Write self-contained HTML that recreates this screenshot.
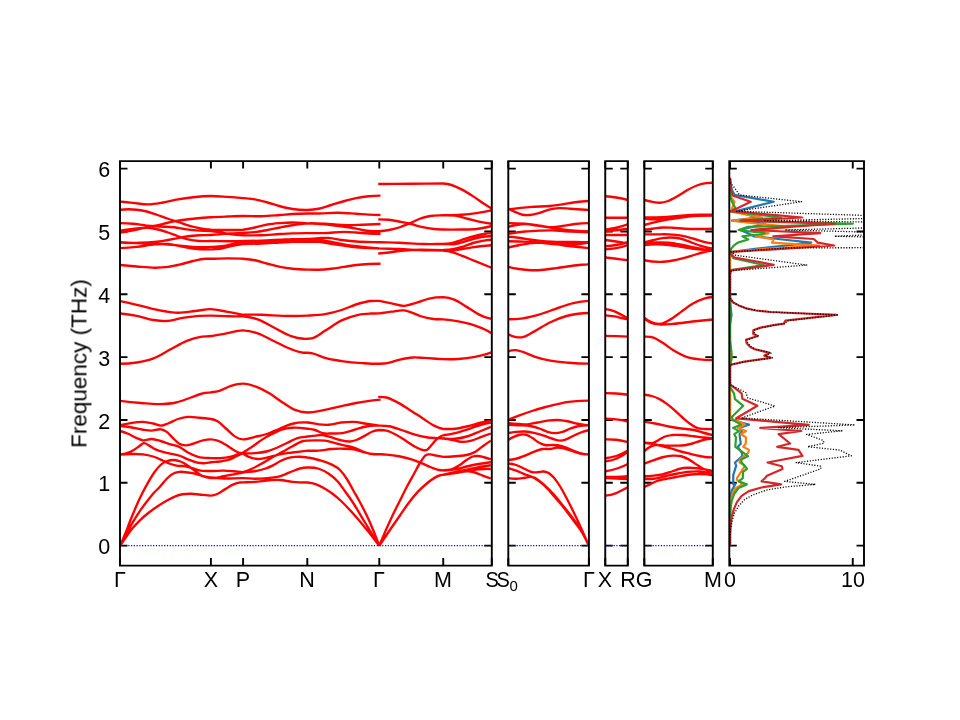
<!DOCTYPE html>
<html><head><meta charset="utf-8"><title>band</title>
<style>
html,body{margin:0;padding:0;background:#fff;}
body{width:960px;height:720px;position:relative;overflow:hidden;font-family:"Liberation Sans",sans-serif;color:#000;}
.xl,.yl{will-change:transform;}
.xl{position:absolute;top:567.5px;width:100px;text-align:center;font-size:21.5px;line-height:25px;white-space:nowrap;}
.xl sub{font-size:15px;vertical-align:baseline;position:relative;top:4px;}
.yl{position:absolute;left:40px;width:70.3px;text-align:right;font-size:21.5px;line-height:25px;}
.dg{display:inline-block;}
.ss{display:inline-block;transform:scaleX(0.93);margin:0 -0.5px;}
.ylab{position:absolute;left:79.5px;top:363px;width:0;height:0;}
.ylab span{position:absolute;display:block;width:300px;left:-150px;top:-12.5px;line-height:25px;text-align:center;font-size:21.5px;transform:rotate(-90deg) scaleX(1.046);white-space:nowrap;}
</style></head><body>
<svg width="960" height="720" viewBox="0 0 960 720" style="position:absolute;left:0;top:0">
<defs>
<clipPath id="c0"><rect x="120.00" y="161.10" width="371.80" height="404.50"/></clipPath>
<clipPath id="c1"><rect x="508.30" y="161.10" width="80.60" height="404.50"/></clipPath>
<clipPath id="c2"><rect x="605.25" y="161.10" width="22.55" height="404.50"/></clipPath>
<clipPath id="c3"><rect x="644.30" y="161.10" width="68.50" height="404.50"/></clipPath>
<clipPath id="c4"><rect x="729.30" y="161.10" width="134.70" height="404.50"/></clipPath>
</defs>
<path d="M120.00 545.60h7.50M491.80 545.60h-7.50M120.00 482.77h7.50M491.80 482.77h-7.50M120.00 419.94h7.50M491.80 419.94h-7.50M120.00 357.11h7.50M491.80 357.11h-7.50M120.00 294.28h7.50M491.80 294.28h-7.50M120.00 231.45h7.50M491.80 231.45h-7.50M120.00 168.62h7.50M491.80 168.62h-7.50M120.00 565.60v-7.50M120.00 161.10v7.50M210.90 565.60v-7.50M210.90 161.10v7.50M243.10 565.60v-7.50M243.10 161.10v7.50M307.30 565.60v-7.50M307.30 161.10v7.50M379.30 565.60v-7.50M379.30 161.10v7.50M443.25 565.60v-7.50M443.25 161.10v7.50M491.80 565.60v-7.50M491.80 161.10v7.50M508.30 545.60h7.50M588.90 545.60h-7.50M508.30 482.77h7.50M588.90 482.77h-7.50M508.30 419.94h7.50M588.90 419.94h-7.50M508.30 357.11h7.50M588.90 357.11h-7.50M508.30 294.28h7.50M588.90 294.28h-7.50M508.30 231.45h7.50M588.90 231.45h-7.50M508.30 168.62h7.50M588.90 168.62h-7.50M508.30 565.60v-7.50M508.30 161.10v7.50M588.90 565.60v-7.50M588.90 161.10v7.50M605.25 545.60h7.50M627.80 545.60h-7.50M605.25 482.77h7.50M627.80 482.77h-7.50M605.25 419.94h7.50M627.80 419.94h-7.50M605.25 357.11h7.50M627.80 357.11h-7.50M605.25 294.28h7.50M627.80 294.28h-7.50M605.25 231.45h7.50M627.80 231.45h-7.50M605.25 168.62h7.50M627.80 168.62h-7.50M605.25 565.60v-7.50M605.25 161.10v7.50M627.80 565.60v-7.50M627.80 161.10v7.50M644.30 545.60h7.50M712.80 545.60h-7.50M644.30 482.77h7.50M712.80 482.77h-7.50M644.30 419.94h7.50M712.80 419.94h-7.50M644.30 357.11h7.50M712.80 357.11h-7.50M644.30 294.28h7.50M712.80 294.28h-7.50M644.30 231.45h7.50M712.80 231.45h-7.50M644.30 168.62h7.50M712.80 168.62h-7.50M644.30 565.60v-7.50M644.30 161.10v7.50M712.80 565.60v-7.50M712.80 161.10v7.50M729.30 545.60h7.50M864.00 545.60h-7.50M729.30 482.77h7.50M864.00 482.77h-7.50M729.30 419.94h7.50M864.00 419.94h-7.50M729.30 357.11h7.50M864.00 357.11h-7.50M729.30 294.28h7.50M864.00 294.28h-7.50M729.30 231.45h7.50M864.00 231.45h-7.50M729.30 168.62h7.50M864.00 168.62h-7.50M730.00 565.60v-7.50M730.00 161.10v7.50M852.75 565.60v-7.50M852.75 161.10v7.50" fill="none" stroke="#000" stroke-width="1.90" stroke-linecap="butt"/>
<g clip-path="url(#c0)" fill="none" stroke="#ff0000" stroke-width="2.35" stroke-linecap="butt" stroke-linejoin="round">
<path d="M120.25 209.75C125.75 209.15 131.25 209.15 136.75 209.75C140.08 210.11 143.42 210.67 146.75 211.50C150.08 212.33 153.42 213.62 156.75 214.75C160.50 216.02 164.25 217.50 168.00 218.75C171.33 219.86 174.67 220.77 178.00 221.88C181.33 222.98 184.67 224.37 188.00 225.38C191.75 226.50 195.50 227.40 199.25 228.12C203.17 228.88 207.08 229.42 211.00 229.75M211.00 229.75C216.50 229.92 222.00 230.01 227.50 230.00C232.67 229.99 237.83 229.91 243.00 229.75M378.25 184.00C389.33 183.92 400.42 183.84 411.50 183.75C422.08 183.67 432.67 183.59 443.25 183.50M443.25 183.50C446.00 183.68 448.75 184.18 451.50 185.00C454.83 185.99 458.17 187.68 461.50 189.38C465.67 191.50 469.83 194.17 474.00 196.88C477.33 199.04 480.67 201.56 484.00 203.75C486.50 205.39 489.00 206.97 491.50 208.50M443.25 215.25C447.25 215.25 451.25 215.07 455.25 215.62C459.42 216.20 463.58 217.71 467.75 218.75C471.92 219.79 476.08 221.02 480.25 221.88C484.00 222.65 487.75 223.27 491.50 223.75M443.25 244.00C446.00 243.96 448.75 243.67 451.50 243.12C454.83 242.46 458.17 241.02 461.50 240.00C465.67 238.72 469.83 237.33 474.00 236.25C477.33 235.39 480.67 234.54 484.00 234.00C486.50 233.59 489.00 233.30 491.50 233.12M443.25 250.00C447.25 250.00 451.25 249.59 455.25 248.75C458.17 248.14 461.08 247.17 464.00 246.25C467.33 245.20 470.67 243.69 474.00 242.75C477.33 241.81 480.67 241.15 484.00 240.62C486.50 240.23 489.00 239.94 491.50 239.75M243.08 316.25C247.94 316.64 252.81 317.69 257.67 319.38C263.22 321.31 268.78 324.93 274.33 327.71C279.89 330.49 285.44 334.16 291.00 336.04C295.17 337.45 299.33 338.53 303.50 338.75C304.82 338.82 306.14 338.82 307.46 338.75M379.17 300.83C383.33 301.67 387.50 302.50 391.67 303.33C395.83 304.17 400.00 305.94 404.17 305.83C408.33 305.73 412.50 303.92 416.67 302.71C420.83 301.49 425.00 299.48 429.17 298.54C433.89 297.48 438.61 297.08 443.33 297.08M443.33 297.08C446.94 297.33 450.56 298.16 454.17 299.58C458.33 301.23 462.50 304.38 466.67 306.88C470.83 309.38 475.00 312.56 479.17 314.58C481.94 315.94 484.72 317.18 487.50 317.92C488.89 318.29 490.28 318.56 491.67 318.75M378.25 396.88C381.00 396.88 383.75 396.84 386.50 397.50C389.83 398.30 393.17 400.18 396.50 401.88C400.67 404.00 404.83 406.77 409.00 409.38C413.17 411.98 417.33 414.79 421.50 417.50C425.67 420.21 429.83 423.60 434.00 425.62C437.08 427.12 440.17 428.25 443.25 429.00M443.25 429.00C447.25 429.00 451.25 429.18 455.25 428.75C459.42 428.30 463.58 427.25 467.75 426.25C471.92 425.25 476.08 423.74 480.25 422.75C483.79 421.91 487.33 421.20 490.88 420.62M120.25 425.25C123.67 424.38 127.08 423.67 130.50 423.12C134.67 422.46 138.83 421.68 143.00 421.88C146.33 422.03 149.67 422.78 153.00 423.50C155.71 424.09 158.42 425.75 161.12 425.62C163.42 425.52 165.71 424.34 168.00 423.50C171.33 422.28 174.67 420.10 178.00 419.00C181.33 417.90 184.67 417.13 188.00 416.88C191.75 416.59 195.50 417.41 199.25 417.75C203.17 418.11 207.08 418.53 211.00 419.00M243.00 453.50C244.92 454.89 246.83 456.01 248.75 456.88C251.67 458.19 254.58 458.86 257.50 459.00C260.00 459.12 262.50 458.56 265.00 458.12C268.33 457.55 271.67 456.46 275.00 455.62C276.67 455.21 278.33 454.74 280.00 454.38C284.17 453.45 288.33 453.08 292.50 452.50C297.50 451.81 302.50 451.18 307.50 450.62M307.50 450.62C311.25 450.86 315.00 450.86 318.75 450.62C322.92 450.37 327.08 449.31 331.25 449.00C335.42 448.69 339.58 448.64 343.75 448.75C347.08 448.84 350.42 448.77 353.75 449.38C356.67 449.90 359.58 451.10 362.50 451.88C365.00 452.54 367.50 453.33 370.00 453.75C373.08 454.27 376.17 454.38 379.25 454.38M307.50 457.50C311.25 458.11 315.00 458.94 318.75 460.00C322.92 461.18 327.08 462.20 331.25 464.38C334.17 465.90 337.08 467.04 340.00 470.00C342.50 472.54 345.00 476.03 347.50 480.00C349.58 483.31 351.67 487.56 353.75 491.25C355.42 494.20 357.08 496.96 358.75 500.00C362.50 506.85 366.25 513.94 370.00 522.50C373.08 529.54 376.17 537.29 379.25 545.75M307.50 482.50C310.42 482.71 313.33 483.33 316.25 484.38C319.17 485.42 322.08 487.03 325.00 488.75C327.50 490.22 330.00 491.88 332.50 493.75C335.00 495.62 337.50 497.75 340.00 500.00C346.25 505.62 352.50 512.77 358.75 520.00C365.58 527.91 372.42 536.49 379.25 545.75M379.25 430.00C381.67 430.00 384.08 430.06 386.50 430.62C389.83 431.40 393.17 433.23 396.50 435.00C399.83 436.77 403.17 439.17 406.50 441.25C409.83 443.33 413.17 445.88 416.50 447.50C418.58 448.51 420.67 449.73 422.75 450.00C424.21 450.19 425.67 450.58 427.12 449.75C428.58 448.92 430.04 446.61 431.50 445.00C433.17 443.16 434.83 440.88 436.50 439.38C438.17 437.88 439.83 436.82 441.50 436.00C442.08 435.71 442.67 435.46 443.25 435.25M443.25 435.25C447.25 434.78 451.25 434.07 455.25 433.12C459.42 432.14 463.58 430.73 467.75 429.38C471.92 428.02 476.08 426.20 480.25 425.00C483.79 423.98 487.33 423.15 490.88 422.50M443.25 438.50C446.00 438.84 448.75 439.26 451.50 439.75C454.83 440.35 458.17 441.73 461.50 441.88C464.83 442.02 468.17 441.46 471.50 440.62C474.83 439.79 478.17 438.10 481.50 436.88C484.62 435.73 487.75 434.60 490.88 433.50M379.25 545.75C383.75 534.65 388.25 524.40 392.75 515.00C394.83 510.65 396.92 506.67 399.00 502.50C401.50 497.50 404.00 492.29 406.50 487.50C409.00 482.71 411.50 478.29 414.00 473.75C416.08 469.97 418.17 465.76 420.25 462.50C421.92 459.89 423.58 456.92 425.25 455.62C426.50 454.65 427.75 454.58 429.00 454.38C431.50 453.96 434.00 455.18 436.50 455.62C438.75 456.02 441.00 456.44 443.25 456.88M443.25 456.88C447.25 456.80 451.25 456.59 455.25 456.25C459.42 455.89 463.58 455.94 467.75 454.75C470.25 454.04 472.75 453.29 475.25 451.88C477.75 450.46 480.25 448.06 482.75 446.25C485.46 444.29 488.17 442.42 490.88 440.62M443.25 470.25C446.00 470.25 448.75 470.23 451.50 469.38C454.00 468.59 456.50 467.19 459.00 465.62C461.50 464.06 464.00 461.62 466.50 460.00C468.58 458.65 470.67 457.13 472.75 456.50C474.42 455.99 476.08 455.94 477.75 456.00C479.83 456.07 481.92 456.73 484.00 457.25C486.29 457.83 488.58 458.54 490.88 459.38M443.25 474.75C447.25 474.24 451.25 473.70 455.25 473.12C459.42 472.53 463.58 471.01 467.75 471.25C469.83 471.37 471.92 471.72 474.00 472.25C476.92 472.99 479.83 474.55 482.75 475.62C485.46 476.62 488.17 477.58 490.88 478.50M443.25 474.75C449.33 473.28 455.42 471.91 461.50 470.62C465.67 469.75 469.83 468.93 474.00 468.12C477.33 467.48 480.67 466.79 484.00 466.25C486.29 465.88 488.58 465.54 490.88 465.25M120.17 545.83C122.25 542.53 124.33 539.41 126.42 536.46C128.50 533.51 130.58 530.65 132.67 528.12C135.10 525.18 137.53 522.69 139.96 520.31C142.74 517.59 145.51 515.25 148.29 513.02C151.42 510.51 154.54 508.33 157.67 506.25C160.79 504.17 163.92 502.25 167.04 500.52C169.82 498.99 172.60 497.43 175.38 496.35C177.81 495.42 180.24 494.71 182.67 494.27C185.44 493.77 188.22 493.72 191.00 493.75C193.78 493.78 196.56 494.22 199.33 494.48C202.11 494.74 204.89 495.06 207.67 495.31C208.78 495.41 209.89 495.51 211.00 495.60M243.00 229.75C247.00 229.10 251.00 228.35 255.00 227.50C259.17 226.61 263.33 225.23 267.50 224.50C271.67 223.77 275.83 223.46 280.00 223.12C284.17 222.79 288.33 222.51 292.50 222.50C297.50 222.49 302.50 223.03 307.50 223.31C313.33 223.65 319.17 223.82 325.00 224.38C329.17 224.77 333.33 225.35 337.50 225.88C341.67 226.40 345.83 226.81 350.00 227.50C354.17 228.19 358.33 229.34 362.50 230.00C365.00 230.40 367.50 230.79 370.00 231.00C373.08 231.26 376.17 231.25 379.25 231.25M379.25 545.75C386.25 535.32 393.25 525.07 400.25 515.00C403.17 510.80 406.08 506.35 409.00 502.50C411.92 498.65 414.83 495.00 417.75 491.88C420.67 488.75 423.58 486.18 426.50 483.75C429.00 481.67 431.50 479.60 434.00 478.12C436.08 476.89 438.17 475.80 440.25 475.25C441.25 474.99 442.25 474.92 443.25 474.75C449.33 473.73 455.42 472.45 461.50 471.50C465.67 470.85 469.83 470.18 474.00 469.75C477.33 469.40 480.67 469.10 484.00 469.00C486.29 468.93 488.58 468.93 490.88 469.00M210.88 495.62C213.00 495.44 215.12 494.89 217.25 494.00C219.75 492.95 222.25 490.86 224.75 489.38C227.67 487.64 230.58 485.58 233.50 484.38C235.58 483.51 237.67 482.77 239.75 482.50C240.85 482.36 241.96 482.42 243.06 482.38C247.04 482.22 251.02 482.16 255.00 481.88C260.00 481.52 265.00 480.54 270.00 480.25C273.33 480.06 276.67 479.82 280.00 480.00C284.17 480.22 288.33 481.46 292.50 481.88C297.50 482.38 302.50 482.50 307.50 482.50M378.25 253.50C381.83 253.27 385.42 252.94 389.00 252.50C392.33 252.09 395.67 251.40 399.00 251.00C403.17 250.50 407.33 250.24 411.50 250.00C422.08 249.40 432.67 250.10 443.25 250.06C447.25 250.05 451.25 250.30 455.25 250.00C459.42 249.68 463.58 248.75 467.75 248.12C471.92 247.50 476.08 246.74 480.25 246.25C484.00 245.81 487.75 245.47 491.50 245.25M379.25 231.25C382.50 231.03 385.75 230.61 389.00 230.00C392.33 229.37 395.67 228.55 399.00 227.50C402.75 226.32 406.50 224.69 410.25 223.12C414.00 221.56 417.75 219.37 421.50 218.12C424.42 217.16 427.33 216.49 430.25 216.00C434.58 215.27 438.92 215.45 443.25 215.25C449.33 214.98 455.42 215.19 461.50 214.75C466.50 214.39 471.50 213.85 476.50 213.12C481.50 212.40 486.50 211.48 491.50 210.38M243.00 453.12C247.00 453.42 251.00 453.42 255.00 453.12C259.17 452.82 263.33 452.40 267.50 451.25C270.83 450.33 274.17 448.92 277.50 447.50C280.83 446.08 284.17 444.31 287.50 442.75C290.83 441.19 294.17 439.17 297.50 438.12C300.83 437.08 304.17 436.95 307.50 436.50C310.00 436.16 312.50 435.88 315.00 435.62C317.50 435.38 320.00 434.79 322.50 435.00C325.00 435.21 327.50 436.18 330.00 436.88C333.33 437.80 336.67 439.23 340.00 440.00C343.33 440.77 346.67 441.80 350.00 441.50C352.08 441.31 354.17 440.73 356.25 440.00C359.17 438.98 362.08 437.16 365.00 435.62C367.50 434.31 370.00 432.44 372.50 431.50C374.75 430.65 377.00 430.15 379.25 430.00M120.25 232.50C123.67 232.05 127.08 231.51 130.50 230.88C134.67 230.10 138.83 229.00 143.00 228.12C147.17 227.25 151.33 226.52 155.50 225.62C159.67 224.73 163.83 223.67 168.00 222.75C171.33 222.02 174.67 221.22 178.00 220.62C183.83 219.58 189.67 219.08 195.50 218.50C200.67 217.98 205.83 217.58 211.00 217.25C216.50 216.90 222.00 216.71 227.50 216.50C232.67 216.30 237.83 216.06 243.00 216.00C249.08 215.93 255.17 216.41 261.25 216.25C267.50 216.09 273.75 215.47 280.00 215.00C284.17 214.69 288.33 214.24 292.50 214.00C297.50 213.71 302.50 213.57 307.50 213.50C311.25 213.45 315.00 213.56 318.75 213.50C325.00 213.41 331.25 212.71 337.50 212.75C343.75 212.79 350.00 213.35 356.25 213.75C360.42 214.01 364.58 214.42 368.75 214.62C372.67 214.82 376.58 214.95 380.50 215.00M120.17 313.54C125.72 313.99 131.28 314.76 136.83 315.83C142.39 316.91 147.94 319.14 153.50 320.00C157.67 320.64 161.83 321.18 166.00 321.04C171.56 320.86 177.11 318.78 182.67 317.92C188.22 317.05 193.78 316.18 199.33 315.83C203.22 315.59 207.11 315.61 211.00 315.62C216.83 315.65 222.67 316.16 228.50 316.25C233.36 316.33 238.22 316.33 243.08 316.25M378.25 219.38C381.83 219.38 385.42 219.36 389.00 219.75C392.33 220.11 395.67 220.88 399.00 221.50C402.75 222.20 406.50 222.85 410.25 223.75C414.00 224.65 417.75 226.02 421.50 226.88C425.67 227.82 429.83 228.57 434.00 229.00C437.08 229.32 440.17 229.39 443.25 229.50C449.33 229.72 455.42 229.61 461.50 229.50C466.50 229.41 471.50 229.61 476.50 229.00C479.00 228.69 481.50 228.25 484.00 227.75C486.50 227.25 489.00 226.67 491.50 226.00M120.25 454.62C123.67 454.28 127.08 454.07 130.50 454.00C134.67 453.92 138.83 453.83 143.00 454.38C146.33 454.81 149.67 455.46 153.00 456.50C155.92 457.41 158.83 458.75 161.75 460.00C164.67 461.25 167.58 462.99 170.50 464.00C173.00 464.86 175.50 465.50 178.00 465.88C180.50 466.25 183.00 465.81 185.50 466.25C188.00 466.69 190.50 467.77 193.00 468.50C195.50 469.23 198.00 470.17 200.50 470.62C204.00 471.26 207.50 470.98 211.00 471.00C215.25 471.03 219.50 470.53 223.75 470.62C227.08 470.70 230.42 470.99 233.75 471.25C236.83 471.49 239.92 471.79 243.00 472.12M120.25 230.62C124.50 230.00 128.75 229.46 133.00 229.00C138.00 228.46 143.00 227.42 148.00 227.75C151.75 228.00 155.50 228.80 159.25 229.75C162.17 230.49 165.08 231.50 168.00 232.50C171.33 233.64 174.67 235.10 178.00 236.25C181.33 237.40 184.67 238.60 188.00 239.38C191.75 240.25 195.50 240.72 199.25 241.00C203.17 241.29 207.08 240.98 211.00 241.00C216.50 241.03 222.00 241.26 227.50 241.25C232.67 241.24 237.83 241.09 243.00 241.00C249.08 240.89 255.17 240.83 261.25 240.62C267.50 240.42 273.75 240.05 280.00 239.75C284.17 239.55 288.33 239.25 292.50 239.12C297.50 238.97 302.50 239.24 307.50 239.00C311.25 238.82 315.00 238.31 318.75 238.12C322.08 237.96 325.42 237.67 328.75 237.88C332.92 238.13 337.08 239.42 341.25 240.00C346.25 240.69 351.25 241.13 356.25 241.50C363.92 242.06 371.58 242.03 379.25 242.25C385.83 242.44 392.42 242.51 399.00 242.75C407.33 243.05 415.67 243.82 424.00 244.00C430.42 244.14 436.83 244.00 443.25 244.00C447.25 244.00 451.25 244.53 455.25 244.00C459.42 243.45 463.58 241.75 467.75 240.62C471.92 239.50 476.08 238.03 480.25 237.25C484.00 236.55 487.75 236.13 491.50 236.00M243.08 314.79C249.33 314.64 255.58 314.64 261.83 314.79C268.78 314.96 275.72 315.67 282.67 315.83C290.94 316.03 299.21 316.06 307.48 315.62C313.32 315.32 319.16 315.15 325.00 314.17C330.56 313.23 336.11 311.74 341.67 310.00C347.22 308.26 352.78 305.33 358.33 303.75C362.50 302.56 366.67 301.47 370.83 301.04C373.61 300.76 376.39 300.83 379.17 300.83M120.25 454.38C123.67 454.28 127.08 453.44 130.50 451.88C133.42 450.54 136.33 448.26 139.25 446.25C140.71 445.24 142.17 443.43 143.62 443.12C145.50 442.74 147.38 444.65 149.25 445.62C151.33 446.70 153.42 448.33 155.50 449.38C159.67 451.46 163.83 452.02 168.00 453.12C172.17 454.23 176.33 454.47 180.50 456.00C183.00 456.92 185.50 458.37 188.00 459.38C191.33 460.71 194.67 462.17 198.00 462.75C200.50 463.18 203.00 463.30 205.50 463.12C207.33 463.00 209.17 462.49 211.00 462.25C214.00 461.86 217.00 461.93 220.00 461.50C223.33 461.02 226.67 460.63 230.00 459.38C232.50 458.43 235.00 456.81 237.50 455.62C239.33 454.76 241.17 453.92 243.00 453.12M243.00 244.00C249.08 243.91 255.17 243.74 261.25 243.50C267.50 243.25 273.75 242.82 280.00 242.50C284.17 242.29 288.33 242.00 292.50 241.88C297.50 241.72 302.50 241.74 307.50 241.75C311.25 241.76 315.00 241.59 318.75 241.88C322.92 242.20 327.08 243.12 331.25 243.75C335.42 244.38 339.58 245.04 343.75 245.62C347.92 246.21 352.08 246.82 356.25 247.25C363.92 248.04 371.58 248.14 379.25 248.44C385.83 248.70 392.42 248.75 399.00 249.00C407.33 249.32 415.67 249.98 424.00 250.25C430.42 250.46 436.83 250.06 443.25 250.62C445.17 250.79 447.08 250.90 449.00 251.25C453.17 252.02 457.33 254.06 461.50 255.62C465.67 257.19 469.83 258.95 474.00 260.62C479.83 262.98 485.67 265.35 491.50 267.75M120.25 431.00C122.83 431.74 125.42 432.66 128.00 433.75C130.92 434.98 133.83 436.90 136.75 438.12C138.83 439.00 140.92 440.07 143.00 440.38C145.92 440.80 148.83 438.90 151.75 439.00C154.67 439.10 157.58 440.19 160.50 441.00C163.83 441.93 167.17 443.34 170.50 444.38C173.42 445.28 176.33 445.52 179.25 446.88C182.17 448.23 185.08 450.90 188.00 452.50C191.33 454.32 194.67 455.91 198.00 456.88C202.33 458.13 206.67 457.95 211.00 458.12C214.00 458.24 217.00 458.30 220.00 458.12C223.33 457.93 226.67 457.69 230.00 456.88C232.50 456.26 235.00 455.22 237.50 454.38C239.33 453.76 241.17 453.13 243.00 452.50M243.00 452.50C246.17 450.62 249.33 448.62 252.50 446.50C255.83 444.26 259.17 441.50 262.50 439.38C265.83 437.25 269.17 435.42 272.50 433.75C275.83 432.08 279.17 430.38 282.50 429.38C285.83 428.38 289.17 427.99 292.50 427.75C297.50 427.40 302.50 428.08 307.50 428.75C310.00 429.08 312.50 429.27 315.00 430.00C317.50 430.73 320.00 432.51 322.50 433.12C325.42 433.84 328.33 433.47 331.25 433.50C335.00 433.54 338.75 433.71 342.50 433.12C346.25 432.54 350.00 431.05 353.75 430.00C357.92 428.84 362.08 427.23 366.25 426.50C369.17 425.99 372.08 425.72 375.00 425.62C376.42 425.58 377.83 425.60 379.25 425.62C382.50 425.69 385.75 425.71 389.00 426.25C393.17 426.95 397.33 428.65 401.50 430.00C405.67 431.35 409.83 433.17 414.00 434.38C418.17 435.58 422.33 436.62 426.50 437.25C429.83 437.75 433.17 437.90 436.50 438.12C438.75 438.28 441.00 438.40 443.25 438.50C447.25 438.67 451.25 439.10 455.25 438.75C459.42 438.39 463.58 437.50 467.75 436.25C471.92 435.00 476.08 432.94 480.25 431.25C483.79 429.81 487.33 428.35 490.88 426.88M120.25 265.00C125.75 265.56 131.25 266.06 136.75 266.50C143.00 267.00 149.25 267.85 155.50 267.75C159.67 267.69 163.83 267.44 168.00 266.88C172.17 266.31 176.33 265.35 180.50 264.38C184.67 263.40 188.83 261.94 193.00 261.00C197.17 260.06 201.33 258.98 205.50 258.75C207.33 258.65 209.17 258.76 211.00 258.75C216.50 258.72 222.00 258.37 227.50 258.38C232.67 258.38 237.83 258.33 243.00 258.75C247.00 259.07 251.00 259.45 255.00 260.25C259.17 261.09 263.33 262.65 267.50 263.75C271.67 264.85 275.83 266.04 280.00 266.88C284.17 267.71 288.33 268.30 292.50 268.75C297.50 269.29 302.50 269.47 307.50 269.62C311.25 269.74 315.00 269.87 318.75 269.75C322.92 269.62 327.08 269.23 331.25 268.75C335.42 268.27 339.58 267.50 343.75 266.88C347.92 266.25 352.08 265.48 356.25 265.00C360.42 264.52 364.58 264.21 368.75 264.00C372.67 263.81 376.58 263.75 380.50 263.75M120.25 223.12C124.50 223.15 128.75 223.36 133.00 223.75C137.58 224.17 142.17 225.16 146.75 225.62C150.92 226.05 155.08 226.25 159.25 226.50C164.25 226.80 169.25 226.67 174.25 227.25C178.42 227.73 182.58 228.81 186.75 229.38C190.92 229.94 195.08 230.35 199.25 230.62C203.17 230.88 207.08 230.64 211.00 231.00C214.00 231.28 217.00 231.78 220.00 232.25C223.33 232.77 226.67 233.53 230.00 234.00C234.33 234.61 238.67 235.01 243.00 235.25C249.08 235.59 255.17 235.45 261.25 235.25C267.50 235.04 273.75 234.35 280.00 234.00C284.17 233.76 288.33 233.52 292.50 233.38C297.50 233.20 302.50 233.17 307.50 233.12C313.33 233.07 319.17 233.31 325.00 233.12C331.25 232.92 337.50 231.85 343.75 231.88C347.92 231.89 352.08 232.23 356.25 232.50C360.42 232.77 364.58 233.29 368.75 233.50C372.67 233.69 376.58 233.75 380.50 233.75M120.25 242.75C125.75 242.85 131.25 242.97 136.75 243.12C143.00 243.30 149.25 243.44 155.50 243.75C159.67 243.96 163.83 244.19 168.00 244.50C172.17 244.81 176.33 245.23 180.50 245.62C184.67 246.02 188.83 246.63 193.00 246.88C199.00 247.23 205.00 247.12 211.00 246.88C215.25 246.70 219.50 246.60 223.75 246.00C227.08 245.53 230.42 244.55 233.75 244.00C236.83 243.49 239.92 243.05 243.00 242.75C249.08 242.15 255.17 242.53 261.25 242.25C267.50 241.96 273.75 241.35 280.00 241.00C284.17 240.76 288.33 240.50 292.50 240.38C297.50 240.22 302.50 240.33 307.50 240.25C311.25 240.19 315.00 239.78 318.75 240.00C322.92 240.25 327.08 241.15 331.25 241.88C335.42 242.60 339.58 243.65 343.75 244.38C347.92 245.10 352.08 245.70 356.25 246.25C363.92 247.26 371.58 248.01 379.25 248.50M307.50 338.75C309.17 338.75 310.83 338.55 312.50 338.12C316.67 337.06 320.83 333.34 325.00 330.83C330.56 327.49 336.11 323.09 341.67 320.42C347.22 317.74 352.78 315.91 358.33 314.79C362.50 313.95 366.67 313.77 370.83 313.54C373.61 313.39 376.39 313.52 379.17 313.33C383.33 313.05 387.50 312.15 391.67 311.67C395.83 311.18 400.00 309.81 404.17 310.42C406.25 310.72 408.33 311.42 410.42 312.08C413.89 313.18 417.36 315.15 420.83 316.25C425.00 317.57 429.17 318.46 433.33 318.96C436.67 319.36 440.00 319.11 443.33 319.38C448.33 319.78 453.33 320.50 458.33 321.46C463.89 322.52 469.44 323.72 475.00 325.62C478.47 326.81 481.94 328.04 485.42 329.79C487.50 330.84 489.58 332.02 491.67 333.33M307.50 352.71C309.17 352.80 310.83 353.01 312.50 353.33C316.67 354.14 320.83 356.71 325.00 357.92C330.56 359.53 336.11 360.22 341.67 361.04C348.61 362.07 355.56 362.67 362.50 363.12C368.06 363.49 373.61 363.96 379.17 363.75C381.94 363.65 384.72 363.56 387.50 363.12C391.67 362.47 395.83 360.52 400.00 359.58C404.17 358.65 408.33 357.78 412.50 357.50C416.67 357.22 420.83 357.72 425.00 357.92C431.11 358.21 437.22 359.03 443.33 359.17C448.33 359.28 453.33 359.29 458.33 358.96C463.89 358.59 469.44 357.96 475.00 356.88C478.47 356.20 481.94 355.41 485.42 354.38C487.50 353.75 489.58 353.06 491.67 352.29M120.25 248.12C125.75 247.86 131.25 247.44 136.75 246.88C143.00 246.23 149.25 244.82 155.50 244.38C159.67 244.08 163.83 243.69 168.00 244.00C172.17 244.31 176.33 245.50 180.50 246.25C184.67 247.00 188.83 247.97 193.00 248.50C199.00 249.26 205.00 249.56 211.00 249.38C214.00 249.28 217.00 249.21 220.00 248.75C223.33 248.23 226.67 246.97 230.00 246.25C234.33 245.31 238.67 244.56 243.00 244.00M120.25 242.50C129.50 243.09 138.75 243.09 148.00 242.50C151.75 242.26 155.50 242.01 159.25 241.50C162.17 241.11 165.08 240.52 168.00 240.00C171.33 239.40 174.67 238.75 178.00 238.12C181.33 237.50 184.67 236.72 188.00 236.25C191.75 235.72 195.50 235.46 199.25 235.25C203.17 235.03 207.08 235.19 211.00 235.00C214.00 234.85 217.00 234.63 220.00 234.38C223.33 234.10 226.67 233.62 230.00 233.38C234.33 233.06 238.67 233.10 243.00 232.88C247.00 232.67 251.00 232.59 255.00 232.12C259.17 231.65 263.33 230.77 267.50 230.00C271.67 229.23 275.83 228.29 280.00 227.50C284.17 226.71 288.33 225.90 292.50 225.25C297.50 224.47 302.50 223.60 307.50 223.31C313.33 222.97 319.17 223.42 325.00 223.75C329.17 223.99 333.33 224.50 337.50 224.75C341.67 225.00 345.83 225.25 350.00 225.25C354.17 225.25 358.33 224.92 362.50 224.75C368.50 224.51 374.50 224.26 380.50 224.00M243.00 472.12C246.17 471.16 249.33 469.95 252.50 468.50C255.83 466.97 259.17 465.00 262.50 463.12C265.83 461.25 269.17 459.12 272.50 457.25C275.83 455.38 279.17 453.71 282.50 451.88C285.83 450.04 289.17 448.02 292.50 446.25C295.83 444.48 299.17 442.08 302.50 441.25C304.17 440.83 305.83 440.77 307.50 440.62C310.00 440.40 312.50 440.40 315.00 440.38C318.33 440.35 321.67 440.17 325.00 440.62C328.33 441.08 331.67 442.29 335.00 443.12C338.33 443.96 341.67 444.86 345.00 445.62C347.92 446.30 350.83 446.56 353.75 447.50C356.67 448.44 359.58 450.15 362.50 451.25C365.00 452.19 367.50 453.24 370.00 453.75C373.08 454.38 376.17 454.02 379.25 454.19C381.67 454.32 384.08 454.42 386.50 454.62C390.67 454.98 394.83 455.46 399.00 456.25C403.17 457.04 407.33 458.04 411.50 459.38C414.83 460.44 418.17 461.77 421.50 463.12C424.83 464.48 428.17 466.24 431.50 467.50C434.00 468.44 436.50 469.53 439.00 470.00C440.42 470.26 441.83 470.36 443.25 470.44C447.25 470.65 451.25 470.05 455.25 469.38C459.42 468.68 463.58 467.19 467.75 466.25C471.92 465.31 476.08 464.45 480.25 463.75C483.79 463.15 487.33 462.65 490.88 462.25M120.25 201.62C124.50 202.04 128.75 202.45 133.00 202.88C138.00 203.37 143.00 204.44 148.00 204.38C153.00 204.31 158.00 203.33 163.00 202.50C168.00 201.67 173.00 200.25 178.00 199.38C183.00 198.50 188.00 197.79 193.00 197.25C199.00 196.60 205.00 196.03 211.00 196.00C216.50 195.97 222.00 196.51 227.50 196.88C232.67 197.22 237.83 197.64 243.00 198.12C247.00 198.50 251.00 198.67 255.00 199.38C259.17 200.11 263.33 201.35 267.50 202.50C271.67 203.65 275.83 205.17 280.00 206.25C284.17 207.33 288.33 208.37 292.50 209.00C297.50 209.75 302.50 210.17 307.50 210.00C311.25 209.87 315.00 209.50 318.75 208.75C322.92 207.91 327.08 206.25 331.25 205.00C335.42 203.75 339.58 202.40 343.75 201.25C347.92 200.10 352.08 198.96 356.25 198.12C360.42 197.29 364.58 196.67 368.75 196.25C372.67 195.86 376.58 195.65 380.50 195.62M120.20 545.80C122.27 541.74 124.33 537.77 126.40 533.90C128.50 529.97 130.60 525.99 132.70 522.40C135.13 518.24 137.57 514.48 140.00 510.90C142.42 507.35 144.83 504.12 147.25 501.00C149.67 497.88 152.08 494.81 154.50 492.20C156.08 490.49 157.67 489.18 159.25 487.50C161.75 484.85 164.25 481.17 166.75 478.75C168.83 476.74 170.92 474.90 173.00 473.75C175.08 472.60 177.17 472.18 179.25 471.88C182.17 471.45 185.08 472.14 188.00 472.50C190.50 472.81 193.00 473.12 195.50 473.75C198.00 474.38 200.50 475.63 203.00 476.25C205.67 476.91 208.33 477.16 211.00 477.50C215.25 478.04 219.50 478.33 223.75 478.50C230.17 478.75 236.58 477.97 243.00 478.12C247.00 478.22 251.00 478.74 255.00 478.75C259.17 478.76 263.33 478.51 267.50 478.12C270.83 477.82 274.17 477.69 277.50 476.88C280.00 476.26 282.50 475.31 285.00 474.38C287.50 473.44 290.00 472.23 292.50 471.25C295.00 470.27 297.50 469.12 300.00 468.50C302.50 467.88 305.00 467.59 307.50 467.50C311.25 467.37 315.00 467.56 318.75 468.75C322.08 469.81 325.42 471.45 328.75 473.75C331.67 475.76 334.58 478.00 337.50 481.25C340.00 484.03 342.50 487.83 345.00 491.25C347.08 494.10 349.17 496.93 351.25 500.00C355.83 506.76 360.42 515.01 365.00 522.50C369.75 530.26 374.50 538.01 379.25 545.75M120.17 301.04C125.72 302.23 131.28 303.48 136.83 304.79C143.78 306.43 150.72 308.68 157.67 310.00C164.61 311.32 171.56 312.69 178.50 312.71C184.06 312.72 189.61 311.65 195.17 311.04C200.44 310.46 205.72 309.04 211.00 309.17C216.14 309.29 221.28 310.77 226.42 311.67C231.97 312.64 237.53 313.68 243.08 314.79M120.25 426.00C123.67 426.30 127.08 426.71 130.50 427.25C134.67 427.90 138.83 429.16 143.00 429.75C145.92 430.16 148.83 430.66 151.75 430.62C154.88 430.59 158.00 428.66 161.12 429.38C163.00 429.80 164.88 430.55 166.75 431.88C168.83 433.35 170.92 436.15 173.00 438.12C175.08 440.10 177.17 442.54 179.25 443.75C181.33 444.96 183.42 445.28 185.50 445.38C188.00 445.48 190.50 444.42 193.00 443.75C196.33 442.86 199.67 441.11 203.00 440.38C205.67 439.79 208.33 439.24 211.00 439.38C213.17 439.48 215.33 439.92 217.50 440.62C220.42 441.57 223.33 443.28 226.25 445.00C228.75 446.47 231.25 448.58 233.75 450.00C235.42 450.94 237.08 451.91 238.75 452.50C240.17 453.01 241.58 453.34 243.00 453.50M120.17 363.75C125.72 363.75 131.28 363.40 136.83 362.50C142.39 361.60 147.94 360.49 153.50 358.33C159.06 356.18 164.61 352.50 170.17 349.58C175.72 346.67 181.28 343.04 186.83 340.83C191.00 339.18 195.17 337.88 199.33 337.08C203.22 336.34 207.11 336.53 211.00 336.04C216.14 335.39 221.28 334.23 226.42 333.33C231.97 332.36 237.53 330.28 243.08 330.42C247.94 330.54 252.81 331.74 257.67 333.33C263.22 335.16 268.78 338.61 274.33 341.25C279.89 343.89 285.44 347.14 291.00 349.17C295.17 350.69 299.33 352.42 303.50 352.71C304.82 352.80 306.14 352.80 307.46 352.71M120.20 545.80C121.93 541.80 123.67 537.63 125.40 533.30C127.13 528.97 128.87 524.13 130.60 519.80C132.33 515.47 134.07 511.30 135.80 507.30C137.53 503.30 139.27 499.37 141.00 495.80C142.73 492.23 144.47 489.04 146.20 485.90C148.88 481.04 151.57 476.26 154.25 472.50C156.33 469.58 158.42 466.88 160.50 465.00C162.58 463.12 164.67 462.09 166.75 461.25C169.25 460.24 171.75 459.86 174.25 460.00C176.33 460.11 178.42 460.71 180.50 461.50C183.00 462.45 185.50 464.00 188.00 465.62C190.50 467.25 193.00 469.48 195.50 471.25C198.00 473.02 200.50 475.11 203.00 476.25C205.67 477.47 208.33 477.89 211.00 478.12C215.25 478.50 219.50 476.97 223.75 476.25C227.08 475.68 230.42 475.03 233.75 474.38C236.83 473.77 239.92 472.99 243.00 472.50C247.00 471.86 251.00 471.98 255.00 471.25C258.33 470.64 261.67 469.90 265.00 468.75C267.50 467.89 270.00 466.88 272.50 465.62C275.00 464.38 277.50 462.50 280.00 461.25C282.50 460.00 285.00 458.85 287.50 458.12C290.00 457.40 292.50 457.09 295.00 456.88C299.17 456.52 303.33 456.73 307.50 457.50M211.00 419.00C213.17 419.28 215.33 420.03 217.50 421.25C220.42 422.89 223.33 426.16 226.25 428.75C228.75 430.97 231.25 433.85 233.75 435.62C235.42 436.81 237.08 437.87 238.75 438.50C240.17 439.03 241.58 439.24 243.00 439.38C247.00 439.77 251.00 437.79 255.00 436.88C259.17 435.92 263.33 435.15 267.50 433.75C271.67 432.35 275.83 430.17 280.00 428.50C284.17 426.83 288.33 424.77 292.50 423.75C297.50 422.52 302.50 422.20 307.50 422.50C311.25 422.72 315.00 424.01 318.75 424.38C322.08 424.70 325.42 424.95 328.75 424.75C332.92 424.50 337.08 422.98 341.25 422.50C345.42 422.02 349.58 421.67 353.75 421.88C357.92 422.08 362.08 423.14 366.25 423.75C370.58 424.39 374.92 425.01 379.25 425.62M120.17 400.83C127.11 401.70 134.06 402.43 141.00 403.00C147.11 403.50 153.22 404.30 159.33 404.17C164.89 404.04 170.44 403.74 176.00 402.50C181.00 401.39 186.00 399.18 191.00 397.50C195.44 396.01 199.89 393.80 204.33 393.00C206.56 392.60 208.78 392.63 211.00 392.33C213.78 391.96 216.56 391.62 219.33 390.83C223.22 389.73 227.11 387.04 231.00 385.83C235.00 384.59 239.00 383.52 243.00 383.58C247.33 383.65 251.67 385.08 256.00 386.67C260.44 388.30 264.89 390.69 269.33 393.33C273.78 395.97 278.22 399.62 282.67 402.50C286.56 405.02 290.44 408.01 294.33 409.67C298.72 411.54 303.11 412.29 307.50 412.50C312.56 412.75 317.61 411.24 322.67 410.33C328.22 409.34 333.78 407.89 339.33 406.67C344.89 405.44 350.44 404.04 356.00 403.00C360.44 402.16 364.89 401.41 369.33 400.83C373.11 400.34 376.89 399.95 380.67 399.67"/>
</g>
<path d="M120.00 545.60H491.80" stroke="#0000ff" stroke-width="1.35" stroke-dasharray="1.2 1.56" fill="none"/>
<g clip-path="url(#c1)" fill="none" stroke="#ff0000" stroke-width="2.35" stroke-linecap="butt" stroke-linejoin="round">
<path d="M508.25 209.38C511.75 208.93 515.25 208.51 518.75 208.12C522.92 207.67 527.08 207.20 531.25 206.88C537.50 206.38 543.75 206.60 550.00 206.00C554.17 205.60 558.33 205.00 562.50 204.38C566.67 203.75 570.83 202.80 575.00 202.25C579.58 201.64 584.17 201.23 588.75 201.00M508.25 208.50C510.50 209.75 512.75 210.87 515.00 211.88C517.50 212.99 520.00 214.23 522.50 214.75C525.00 215.27 527.50 215.19 530.00 215.00C533.33 214.74 536.67 213.69 540.00 212.75C543.33 211.81 546.67 210.15 550.00 209.38C552.92 208.69 555.83 208.29 558.75 208.12C562.50 207.91 566.25 208.53 570.00 208.75C576.25 209.12 582.50 209.54 588.75 210.00M508.25 223.12C513.83 223.12 519.42 223.28 525.00 223.75C530.00 224.17 535.00 224.99 540.00 225.62C544.17 226.16 548.33 227.30 552.50 227.25C555.83 227.21 559.17 226.47 562.50 226.00C566.67 225.41 570.83 224.48 575.00 224.00C579.58 223.48 584.17 223.19 588.75 223.12M508.25 226.88C510.92 226.10 513.58 225.47 516.25 225.00C519.17 224.48 522.08 224.04 525.00 224.00C529.17 223.94 533.33 225.04 537.50 225.62C541.67 226.21 545.83 226.88 550.00 227.50C554.17 228.12 558.33 228.85 562.50 229.38C566.67 229.90 570.83 230.28 575.00 230.62C579.58 231.00 584.17 231.30 588.75 231.50M508.25 233.75C513.83 232.78 519.42 232.03 525.00 231.50C530.00 231.03 535.00 230.81 540.00 230.62C544.17 230.47 548.33 230.27 552.50 230.38C556.67 230.48 560.83 231.00 565.00 231.25C569.17 231.50 573.33 231.70 577.50 231.88C581.25 232.03 585.00 232.15 588.75 232.25M508.25 236.88C511.75 237.04 515.25 237.34 518.75 237.75C522.92 238.24 527.08 239.17 531.25 239.75C535.42 240.33 539.58 240.90 543.75 241.25C547.92 241.60 552.08 241.74 556.25 241.88C562.50 242.08 568.75 241.95 575.00 242.00C579.58 242.04 584.17 242.08 588.75 242.12M508.25 241.25C511.75 241.32 515.25 241.41 518.75 241.50C522.92 241.61 527.08 241.60 531.25 241.88C535.42 242.15 539.58 242.71 543.75 243.12C547.92 243.54 552.08 243.90 556.25 244.38C560.42 244.85 564.58 245.50 568.75 246.00C575.42 246.81 582.08 247.51 588.75 248.12M508.25 247.50C511.75 246.68 515.25 245.93 518.75 245.25C522.92 244.44 527.08 243.58 531.25 243.12C535.42 242.67 539.58 242.44 543.75 242.50C547.92 242.56 552.08 243.17 556.25 243.50C560.42 243.83 564.58 244.46 568.75 244.50C575.42 244.57 582.08 243.91 588.75 242.50M508.25 266.88C511.75 267.75 515.25 268.46 518.75 269.00C522.92 269.65 527.08 270.12 531.25 270.25C535.42 270.38 539.58 270.10 543.75 269.75C547.92 269.40 552.08 268.71 556.25 268.12C560.42 267.54 564.58 266.81 568.75 266.25C572.92 265.69 577.08 265.07 581.25 264.75C583.75 264.56 586.25 264.43 588.75 264.38M508.25 319.21C513.14 319.21 518.03 318.98 522.92 318.29C528.26 317.53 533.61 316.15 538.96 314.62C544.31 313.10 549.65 310.91 555.00 309.12C561.11 307.08 567.22 304.57 573.33 303.17C578.45 301.99 583.57 301.23 588.69 300.88M508.25 334.33C510.85 335.74 513.44 336.65 516.04 337.08C518.33 337.46 520.62 337.51 522.92 337.08C526.74 336.37 530.56 333.38 534.38 331.35C539.72 328.52 545.07 324.75 550.42 322.19C555.76 319.63 561.11 317.48 566.46 316.00C570.28 314.94 574.10 314.20 577.92 313.71C581.51 313.24 585.10 313.02 588.69 313.02M508.25 351.29C510.85 350.34 513.44 349.96 516.04 350.15C518.33 350.31 520.62 351.25 522.92 351.98C526.74 353.19 530.56 355.26 534.38 356.56C539.72 358.38 545.07 359.67 550.42 360.69C556.53 361.85 562.64 362.26 568.75 362.75C575.40 363.29 582.04 363.59 588.69 363.67M508.25 419.75C511.75 418.31 515.25 416.93 518.75 415.62C522.92 414.07 527.08 412.60 531.25 411.25C535.42 409.90 539.58 408.65 543.75 407.50C547.92 406.35 552.08 405.31 556.25 404.38C560.42 403.44 564.58 402.46 568.75 401.88C572.50 401.34 576.25 401.08 580.00 400.88C582.92 400.71 585.83 400.63 588.75 400.62M508.25 423.12C511.75 423.49 515.25 423.79 518.75 424.00C521.67 424.18 524.58 424.56 527.50 424.38C530.83 424.16 534.17 423.12 537.50 422.50C540.83 421.88 544.17 421.04 547.50 420.62C550.83 420.21 554.17 419.90 557.50 420.00C560.83 420.10 564.17 420.62 567.50 421.25C570.83 421.88 574.17 423.05 577.50 423.75C581.25 424.54 585.00 425.17 588.75 425.62M508.25 424.75C511.75 424.86 515.25 425.03 518.75 425.25C522.92 425.51 527.08 425.41 531.25 426.25C534.17 426.84 537.08 427.71 540.00 428.75C542.50 429.64 545.00 431.15 547.50 431.88C550.00 432.60 552.50 433.12 555.00 433.12C557.50 433.12 560.00 432.60 562.50 431.88C565.00 431.15 567.50 429.67 570.00 428.75C572.92 427.67 575.83 426.59 578.75 426.00C582.08 425.32 585.42 425.25 588.75 425.25M508.25 433.12C510.92 432.56 513.58 432.15 516.25 431.88C519.17 431.58 522.08 431.35 525.00 431.50C528.33 431.68 531.67 432.36 535.00 433.12C537.92 433.79 540.83 434.69 543.75 435.62C546.67 436.56 549.58 437.88 552.50 438.75C555.00 439.50 557.50 440.61 560.00 440.62C562.08 440.63 564.17 440.05 566.25 439.38C569.17 438.43 572.08 436.33 575.00 435.00C577.50 433.86 580.00 432.70 582.50 431.88C584.58 431.18 586.67 430.64 588.75 430.25M508.25 440.00C510.08 438.76 511.92 437.72 513.75 436.88C515.83 435.91 517.92 435.10 520.00 434.75C522.08 434.40 524.17 434.19 526.25 434.75C528.33 435.31 530.42 436.83 532.50 438.12C534.58 439.42 536.67 441.35 538.75 442.50C540.83 443.65 542.92 444.55 545.00 445.00C547.50 445.55 550.00 444.90 552.50 445.00C555.00 445.10 557.50 445.10 560.00 445.62C562.50 446.15 565.00 447.19 567.50 448.12C570.00 449.06 572.50 450.29 575.00 451.25C577.08 452.05 579.17 452.98 581.25 453.50C583.75 454.12 586.25 454.38 588.75 454.38M508.25 460.00C510.92 459.84 513.58 459.42 516.25 458.75C519.17 458.01 522.08 456.77 525.00 455.62C527.92 454.48 530.83 452.98 533.75 451.88C536.67 450.77 539.58 449.44 542.50 449.00C545.00 448.62 547.50 449.25 550.00 449.00C552.50 448.75 555.00 447.54 557.50 447.50C560.00 447.46 562.50 448.12 565.00 448.75C567.50 449.38 570.00 450.46 572.50 451.25C575.00 452.04 577.50 452.98 580.00 453.50C582.92 454.11 585.83 454.38 588.75 454.38M508.25 463.50C510.92 463.66 513.58 464.16 516.25 465.00C519.17 465.92 522.08 467.70 525.00 469.00C527.50 470.11 530.00 471.82 532.50 472.25C534.17 472.54 535.83 472.34 537.50 472.25C539.58 472.14 541.67 471.23 543.75 471.50C545.42 471.71 547.08 472.12 548.75 473.12C550.42 474.12 552.08 475.65 553.75 477.50C555.83 479.81 557.92 482.92 560.00 486.25C562.50 490.24 565.00 495.21 567.50 500.00C570.00 504.79 572.50 509.79 575.00 515.00C577.50 520.21 580.00 525.62 582.50 531.25C584.58 535.94 586.67 540.77 588.75 545.75M508.25 468.12C510.92 468.81 513.58 469.64 516.25 470.62C519.17 471.70 522.08 473.28 525.00 474.38C527.08 475.16 529.17 475.67 531.25 476.50C533.33 477.33 535.42 478.06 537.50 479.38C540.00 480.95 542.50 483.33 545.00 485.62C547.50 487.92 550.00 490.42 552.50 493.12C555.00 495.83 557.50 498.85 560.00 501.88C562.50 504.90 565.00 508.02 567.50 511.25C570.00 514.48 572.50 517.71 575.00 521.25C577.50 524.79 580.00 527.90 582.50 532.50C584.58 536.33 586.67 540.75 588.75 545.75M508.25 478.12C510.92 478.58 513.58 478.79 516.25 478.75C519.17 478.71 522.08 478.13 525.00 477.75C527.08 477.48 529.17 476.50 531.25 476.88C533.33 477.25 535.42 478.64 537.50 480.00C540.00 481.63 542.50 483.85 545.00 486.25C547.50 488.65 550.00 491.56 552.50 494.38C555.00 497.19 557.50 500.10 560.00 503.12C562.50 506.15 565.00 509.27 567.50 512.50C570.00 515.73 572.50 519.06 575.00 522.50C577.50 525.94 580.00 528.76 582.50 533.12C584.58 536.76 586.67 540.97 588.75 545.75"/>
</g>
<path d="M508.30 545.60H588.90" stroke="#0000ff" stroke-width="1.35" stroke-dasharray="1.2 1.56" fill="none"/>
<g clip-path="url(#c2)" fill="none" stroke="#ff0000" stroke-width="2.35" stroke-linecap="butt" stroke-linejoin="round">
<path d="M605.50 196.25C609.08 196.50 612.67 196.92 616.25 197.50C620.17 198.14 624.08 198.97 628.00 200.00M605.50 217.75L628.00 217.75M605.50 229.75C609.08 229.26 612.67 228.59 616.25 227.75C620.17 226.83 624.08 225.71 628.00 224.38M605.50 231.25C609.08 230.98 612.67 230.64 616.25 230.25C620.17 229.82 624.08 229.32 628.00 228.75M605.50 235.00L628.00 235.00M605.50 240.00C609.08 240.41 612.67 240.91 616.25 241.50C620.17 242.14 624.08 242.89 628.00 243.75M605.50 246.25C609.08 246.03 612.67 245.62 616.25 245.00C620.17 244.32 624.08 243.41 628.00 242.25M605.50 249.38C609.08 249.21 612.67 248.80 616.25 248.12C620.17 247.39 624.08 246.35 628.00 245.00M605.50 257.50C609.08 257.90 612.67 258.31 616.25 258.75C620.17 259.23 624.08 259.73 628.00 260.25M605.42 309.12C608.47 309.45 611.53 310.22 614.58 311.42C616.88 312.32 619.17 313.67 621.46 314.85C623.60 315.96 625.74 317.11 627.88 318.29M605.42 315.31C608.47 315.51 611.53 315.89 614.58 316.46C616.88 316.89 619.17 317.55 621.46 318.06C623.60 318.54 625.74 319.00 627.88 319.44M605.42 335.94C609.24 335.97 613.06 336.05 616.88 336.17C620.54 336.28 624.21 336.43 627.88 336.62M605.50 393.12C609.08 393.13 612.67 393.25 616.25 393.50C620.17 393.77 624.08 394.19 628.00 394.75M605.50 418.75C609.08 418.75 612.67 418.96 616.25 419.38C620.17 419.83 624.08 420.54 628.00 421.50M605.50 439.38C609.08 439.38 612.67 439.32 616.25 439.75C620.17 440.22 624.08 441.05 628.00 442.25M605.50 458.12C609.08 457.86 612.67 457.15 616.25 456.00C620.17 454.74 624.08 452.95 628.00 450.62M605.50 461.25C609.08 461.02 612.67 460.19 616.25 458.75C620.17 457.18 624.08 454.89 628.00 451.88M605.50 471.25C609.08 470.71 612.67 469.88 616.25 468.75C620.17 467.52 624.08 465.93 628.00 464.00M605.50 476.88C609.08 476.97 612.67 476.97 616.25 476.88C620.17 476.78 624.08 476.57 628.00 476.25M605.50 478.12C609.08 478.24 612.67 478.36 616.25 478.50C620.17 478.65 624.08 478.82 628.00 479.00M605.50 495.62C609.08 495.40 612.67 494.56 616.25 493.12C618.33 492.29 620.42 491.04 622.50 490.00C624.33 489.08 626.17 488.17 628.00 487.25"/>
</g>
<path d="M605.25 545.60H627.80" stroke="#0000ff" stroke-width="1.35" stroke-dasharray="1.2 1.56" fill="none"/>
<g clip-path="url(#c3)" fill="none" stroke="#ff0000" stroke-width="2.35" stroke-linecap="butt" stroke-linejoin="round">
<path d="M644.25 200.00C647.00 200.78 649.75 201.41 652.50 201.88C655.00 202.30 657.50 202.85 660.00 202.75C662.50 202.65 665.00 202.07 667.50 201.25C670.83 200.15 674.17 198.12 677.50 196.25C680.83 194.38 684.17 191.83 687.50 190.00C690.83 188.17 694.17 186.42 697.50 185.25C700.42 184.23 703.33 183.53 706.25 183.12C708.58 182.80 710.92 182.75 713.25 182.75M644.25 217.50C650.33 217.50 656.42 217.55 662.50 217.25C668.75 216.94 675.00 216.04 681.25 215.62C687.50 215.21 693.75 214.87 700.00 214.75C704.42 214.66 708.83 214.66 713.25 214.75M644.25 218.50C648.25 219.13 652.25 219.42 656.25 219.38C660.42 219.33 664.58 218.54 668.75 218.12C672.92 217.71 677.08 217.23 681.25 216.88C685.42 216.52 689.58 216.21 693.75 216.00C700.25 215.67 706.75 215.62 713.25 215.62M644.25 225.00C648.25 223.84 652.25 222.80 656.25 221.88C660.42 220.91 664.58 220.10 668.75 219.38C672.92 218.65 677.08 218.06 681.25 217.50C685.42 216.94 689.58 216.39 693.75 216.00C700.25 215.39 706.75 215.06 713.25 215.00M644.25 229.75C647.42 229.30 650.58 228.89 653.75 228.50C656.67 228.14 659.58 227.64 662.50 227.50C665.83 227.34 669.17 227.59 672.50 227.75C676.67 227.96 680.83 228.54 685.00 228.75C690.00 229.01 695.00 229.01 700.00 229.00C704.42 228.99 708.83 228.91 713.25 228.75M644.25 234.38C648.25 234.38 652.25 234.38 656.25 234.38C660.42 234.38 664.58 234.17 668.75 234.38C672.92 234.58 677.08 234.90 681.25 235.62C685.42 236.35 689.58 237.56 693.75 238.75C697.08 239.70 700.42 241.08 703.75 241.88C706.92 242.63 710.08 243.18 713.25 243.50M644.25 242.50C647.42 241.59 650.58 240.75 653.75 240.00C656.67 239.31 659.58 238.54 662.50 238.12C665.00 237.77 667.50 237.51 670.00 237.50C673.33 237.48 676.67 237.77 680.00 238.50C683.33 239.23 686.67 240.69 690.00 241.88C693.33 243.06 696.67 244.57 700.00 245.62C704.42 247.02 708.83 248.06 713.25 248.75M644.25 244.38C648.25 243.40 652.25 242.78 656.25 242.50C660.42 242.21 664.58 242.38 668.75 242.75C672.92 243.12 677.08 243.96 681.25 244.75C685.42 245.54 689.58 246.66 693.75 247.50C697.08 248.17 700.42 248.96 703.75 249.38C706.92 249.77 710.08 249.98 713.25 250.00M644.25 245.00C648.25 244.59 652.25 244.38 656.25 244.38C660.42 244.37 664.58 244.58 668.75 245.00C672.92 245.42 677.08 246.25 681.25 246.88C685.42 247.50 689.58 248.21 693.75 248.75C700.25 249.59 706.75 250.21 713.25 250.62M644.25 260.25C649.62 261.43 655.00 261.97 660.38 261.88C664.96 261.80 669.54 261.08 674.12 260.25C678.71 259.42 683.29 258.12 687.88 256.88C692.46 255.62 697.04 253.91 701.62 252.75C705.50 251.77 709.38 250.93 713.25 250.25M644.15 317.60C646.51 319.62 648.88 321.15 651.25 322.19C654.31 323.53 657.36 324.17 660.42 323.79C663.47 323.41 666.53 321.57 669.58 319.90C673.40 317.81 677.22 314.55 681.04 311.88C684.86 309.20 688.68 306.07 692.50 303.85C696.32 301.64 700.14 299.74 703.96 298.58C707.01 297.66 710.07 297.13 713.12 296.98M644.15 318.75C646.51 320.54 648.88 321.92 651.25 322.88C654.31 324.11 657.36 324.22 660.42 324.48C665.00 324.87 669.58 324.17 674.17 323.79C680.28 323.29 686.39 322.19 692.50 321.50C699.38 320.72 706.25 320.03 713.12 319.44M644.15 336.62C647.28 336.62 650.41 336.48 653.54 337.54C656.60 338.58 659.65 340.89 662.71 342.81C666.53 345.22 670.35 348.54 674.17 350.83C677.99 353.12 681.81 355.17 685.62 356.56C690.21 358.23 694.79 358.74 699.38 359.31C703.96 359.89 708.54 360.00 713.12 360.00M644.25 394.75C647.00 394.91 649.75 395.41 652.50 396.25C655.00 397.01 657.50 398.02 660.00 399.38C662.50 400.73 665.00 402.50 667.50 404.38C670.00 406.25 672.50 408.44 675.00 410.62C677.50 412.81 680.00 415.31 682.50 417.50C685.00 419.69 687.50 421.98 690.00 423.75C692.50 425.52 695.00 427.25 697.50 428.12C700.00 429.00 702.50 428.85 705.00 429.00C707.75 429.17 710.50 429.17 713.25 429.00M644.25 421.88C648.25 422.38 652.25 423.00 656.25 423.75C660.42 424.53 664.58 425.71 668.75 426.50C672.92 427.29 677.08 427.92 681.25 428.50C685.42 429.08 689.58 429.09 693.75 430.00C696.67 430.63 699.58 431.71 702.50 432.50C706.08 433.48 709.67 434.39 713.25 435.25M644.25 442.50C647.00 443.61 649.75 443.82 652.50 443.12C654.58 442.60 656.67 441.10 658.75 440.00C660.83 438.90 662.92 437.33 665.00 436.50C667.50 435.51 670.00 435.29 672.50 435.00C675.83 434.62 679.17 434.83 682.50 435.00C686.25 435.20 690.00 435.81 693.75 436.25C697.08 436.64 700.42 437.12 703.75 437.50C706.92 437.86 710.08 438.20 713.25 438.50M644.25 451.25C646.17 449.40 648.08 447.94 650.00 446.88C651.67 445.95 653.33 445.38 655.00 445.00C658.33 444.24 661.67 445.52 665.00 445.62C668.33 445.73 671.67 445.69 675.00 445.62C678.33 445.56 681.67 445.75 685.00 445.25C687.50 444.88 690.00 444.21 692.50 443.50C695.00 442.79 697.50 441.75 700.00 441.00C702.50 440.25 705.00 439.41 707.50 439.00C709.42 438.68 711.33 438.52 713.25 438.50M644.25 442.75C647.00 442.75 649.75 442.97 652.50 443.50C655.00 443.98 657.50 444.95 660.00 445.62C663.33 446.52 666.67 447.19 670.00 448.12C673.33 449.06 676.67 450.31 680.00 451.25C683.33 452.19 686.67 452.96 690.00 453.75C693.33 454.54 696.67 455.36 700.00 456.00C702.50 456.48 705.00 457.07 707.50 457.25C709.42 457.39 711.33 457.39 713.25 457.25M644.25 463.75C647.00 462.66 649.75 461.62 652.50 460.62C655.83 459.42 659.17 458.08 662.50 457.25C665.83 456.42 669.17 455.75 672.50 455.62C675.42 455.51 678.33 455.50 681.25 456.25C683.75 456.89 686.25 458.02 688.75 459.38C691.25 460.73 693.75 462.77 696.25 464.38C698.75 465.98 701.25 467.85 703.75 469.00C706.92 470.46 710.08 471.29 713.25 471.50M644.25 476.25C647.42 476.17 650.58 475.96 653.75 475.62C656.67 475.32 659.58 475.02 662.50 474.38C665.83 473.63 669.17 472.33 672.50 471.25C675.00 470.44 677.50 469.33 680.00 468.75C682.50 468.17 685.00 467.88 687.50 467.75C690.42 467.60 693.33 467.85 696.25 468.12C699.17 468.40 702.08 468.88 705.00 469.38C707.75 469.84 710.50 470.39 713.25 471.00M644.25 479.00C647.42 479.00 650.58 479.14 653.75 478.75C656.67 478.39 659.58 477.52 662.50 476.88C666.67 475.96 670.83 474.83 675.00 474.00C679.17 473.17 683.33 472.29 687.50 471.88C691.67 471.46 695.83 471.13 700.00 471.50C704.42 471.90 708.83 472.86 713.25 474.38M644.25 486.88C646.17 486.10 648.08 485.27 650.00 484.38C652.08 483.40 654.17 482.08 656.25 481.25C659.17 480.09 662.08 479.64 665.00 479.00C668.33 478.27 671.67 477.84 675.00 477.25C679.17 476.51 683.33 475.54 687.50 475.00C691.67 474.46 695.83 473.96 700.00 474.00C704.42 474.04 708.83 474.50 713.25 475.38"/>
</g>
<path d="M644.30 545.60H712.80" stroke="#0000ff" stroke-width="1.35" stroke-dasharray="1.2 1.56" fill="none"/>
<g clip-path="url(#c4)" fill="none" stroke-linejoin="round" stroke-linecap="butt">
<path d="M730.00 179.50L730.30 182.90L732.00 190.00L734.50 194.80L773.70 201.80L736.20 211.10L757.00 217.50L732.00 220.60L765.00 223.75L748.00 228.00L740.00 230.00L748.00 233.20L754.00 236.30L782.60 239.50L811.20 242.60L785.00 245.70L755.00 248.90L730.30 252.00L730.00 258.00L730.00 300.00L731.50 315.00L730.00 325.00L730.00 416.00L732.00 420.00L749.00 424.60L739.00 427.90L742.00 431.10L739.50 434.20L740.75 443.65L737.80 446.80L742.00 453.10L742.40 456.20L735.00 462.50L736.20 465.60L733.25 475.10L733.25 484.50L735.30 484.20L731.70 490.60L730.60 498.00L730.00 510.00L730.00 546.50" stroke="#1f77b4" stroke-width="2.20"/>
<path d="M730.00 179.50L730.00 195.80L734.50 201.80L732.00 208.30L730.75 211.70L762.00 217.50L732.80 220.60L758.00 223.75L790.00 226.90L755.00 230.00L768.70 233.20L756.00 236.30L773.70 239.50L772.00 242.60L819.00 245.70L765.00 248.90L730.50 252.00L730.00 256.00L730.00 416.00L731.00 419.20L737.00 420.80L745.00 424.60L737.80 427.90L746.00 431.10L741.00 434.20L746.00 437.40L745.75 443.65L743.25 446.80L749.00 449.90L748.00 453.10L740.00 459.40L739.50 462.50L745.00 465.60L737.00 478.20L736.90 479.70L742.60 484.20L735.30 488.50L732.20 494.80L730.60 502.00L730.00 512.00L730.00 546.50" stroke="#ff7f0e" stroke-width="2.20"/>
<path d="M730.00 179.50L730.00 195.80L732.00 201.80L735.30 208.00L731.00 211.50L781.00 217.50L740.00 220.60L852.80 223.75L748.00 226.90L738.70 230.00L764.50 233.20L742.40 236.30L748.25 239.50L737.80 242.60L733.70 245.70L731.00 248.90L730.30 252.00L731.50 255.20L733.40 258.30L763.70 265.00L731.00 270.00L730.00 274.00L730.00 340.00L731.50 352.00L731.80 358.00L730.00 366.00L730.00 384.00L730.30 387.50L734.00 393.30L735.00 399.20L743.25 405.80L732.00 416.70L732.80 420.00L741.20 424.60L733.00 427.90L739.00 431.10L734.30 434.20L736.00 437.40L735.30 446.80L748.00 456.20L741.20 459.40L741.60 462.50L747.00 468.80L743.00 471.90L742.80 478.20L738.70 481.35L746.80 484.40L738.50 488.00L734.30 493.75L731.70 501.00L730.60 508.00L730.00 520.00L730.00 546.50" stroke="#2ca02c" stroke-width="2.20"/>
<path d="M730.00 179.50L730.30 178.75L730.50 182.90L731.00 189.20L732.40 195.50L750.75 201.80L731.20 211.20L802.20 217.50L741.60 220.60L834.90 223.75L790.00 226.90L751.20 230.00L820.30 233.20L773.25 236.30L813.70 239.00L817.80 242.60L834.10 245.50L782.00 248.90L731.00 252.00L732.00 255.20L734.50 257.50L773.70 264.80L730.75 270.40L730.00 274.00L730.00 296.00L730.20 298.10L732.80 302.20L738.70 305.40L746.00 308.30L756.20 310.50L770.75 312.00L792.60 313.00L836.40 314.90L785.30 320.70L783.90 323.60L773.70 325.10L760.50 327.60L753.25 330.20L753.25 333.90L757.60 336.00L746.00 339.70L746.70 343.30L750.30 347.00L754.70 349.20L763.50 351.40L769.30 352.80L764.20 355.70L770.75 357.90L762.00 359.10L744.50 361.60L730.20 364.90L730.00 368.00L730.00 382.00L730.30 384.60L736.20 389.20L741.60 393.30L742.40 398.75L757.40 405.80L736.20 418.30L808.70 424.90L760.30 427.90L801.30 431.00L778.60 434.20L790.20 443.50L777.20 446.80L798.50 449.80L802.40 455.80L767.50 462.50L781.80 466.20L782.50 469.10L767.00 475.80L765.00 478.20L761.50 481.30L781.00 484.40L761.40 487.50L748.90 491.10L741.60 495.80L736.90 502.10L733.80 509.40L731.70 516.70L730.60 525.00L730.00 535.00L730.00 546.50" stroke="#d62728" stroke-width="2.20"/>
<path d="M730.00 179.50L730.75 183.00L735.00 188.50L739.50 195.00L801.60 201.70L736.60 211.25L922.00 217.30L765.00 220.70L1016.00 224.00L785.00 230.00L909.00 233.10L834.50 236.25L990.00 239.40L960.00 242.60L1000.00 245.70L864.00 247.70L787.00 247.90L731.00 252.00L735.75 255.30L807.20 265.10L731.40 270.60L730.00 274.00L730.00 296.00L730.20 298.10L732.80 302.20L738.70 305.40L746.00 308.30L756.20 310.50L770.75 312.00L792.60 313.00L838.60 314.90L787.00 320.70L785.50 323.60L774.70 325.10L761.50 327.60L754.25 330.20L754.25 333.90L759.00 336.00L747.00 339.70L747.70 343.30L751.30 347.00L755.70 349.20L764.50 351.40L771.50 352.80L765.20 355.70L772.50 357.90L763.00 359.10L745.50 361.60L730.20 364.90L730.00 368.00L730.00 382.00L730.75 385.00L745.75 392.50L747.80 398.00L775.00 406.00L741.60 418.00L855.00 424.90L778.50 427.70L842.00 430.80L806.60 434.50L823.50 440.50L823.80 443.30L807.60 446.70L840.00 450.10L851.40 455.80L796.20 462.60L821.20 466.25L820.60 468.90L784.70 481.40L815.50 484.40L784.30 487.00L766.60 490.10L753.00 494.80L744.70 499.50L738.50 506.25L734.30 513.50L732.20 520.80L730.60 529.00L730.00 540.00L730.00 546.50" stroke="#000" stroke-width="1.3" stroke-dasharray="1.15 1.61"/>
</g>
<path d="M120.00 161.10H491.80V565.60H120.00ZM508.30 161.10H588.90V565.60H508.30ZM605.25 161.10H627.80V565.60H605.25ZM644.30 161.10H712.80V565.60H644.30ZM729.30 161.10H864.00V565.60H729.30Z" fill="none" stroke="#000" stroke-width="1.90" stroke-linejoin="miter" stroke-linecap="butt"/>
</svg>
<div class="xl" style="left:70.0px">Γ</div>
<div class="xl" style="left:160.9px">X</div>
<div class="xl" style="left:193.1px">P</div>
<div class="xl" style="left:257.3px">N</div>
<div class="xl" style="left:329.3px">Γ</div>
<div class="xl" style="left:393.2px">M</div>
<div class="xl" style="left:441.8px"><span class="ss">S</span></div>
<div class="xl" style="left:457.2px"><span class="ss">S</span><sub>0</sub></div>
<div class="xl" style="left:538.9px">Γ</div>
<div class="xl" style="left:555.2px">X</div>
<div class="xl" style="left:577.8px">R</div>
<div class="xl" style="left:594.3px">G</div>
<div class="xl" style="left:662.8px">M</div>
<div class="xl" style="left:680.0px"><span class="dg">0</span></div>
<div class="xl" style="left:802.8px"><span class="dg">10</span></div>
<div class="yl" style="top:535.2px">0</div>
<div class="yl" style="top:472.4px">1</div>
<div class="yl" style="top:409.5px">2</div>
<div class="yl" style="top:346.7px">3</div>
<div class="yl" style="top:283.9px">4</div>
<div class="yl" style="top:221.1px">5</div>
<div class="yl" style="top:158.2px">6</div>
<div class="ylab"><span>Frequency (THz)</span></div>
</body></html>
